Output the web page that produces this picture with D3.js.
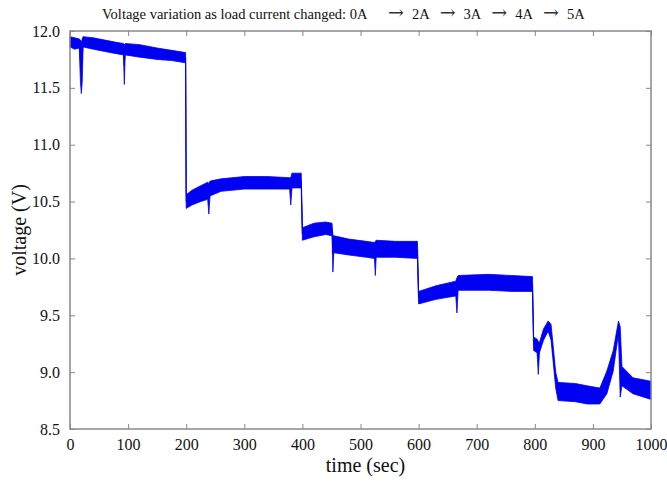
<!DOCTYPE html>
<html>
<head>
<meta charset="utf-8">
<script src="https://cdn.jsdelivr.net/npm/d3@7"></script>
<style>
  body { margin: 0; background: #fff; }
  svg text { font-family: "Liberation Serif", "Times New Roman", serif; fill: #111; }
  .axis .domain { display: none; }
  .axis line { stroke: #888; stroke-width: 1; }
</style>
</head>
<body>
<svg id="chart" width="667" height="484"></svg>
<script>
//

// time (sec) and the low / high edge of the noisy voltage band (V)
const time = [0, 8, 16, 18, 19.5, 21, 22.5, 40, 60, 80, 92, 93.5, 95, 120, 150, 175, 199,
  200, 210, 225, 237, 239, 241, 260, 300, 340, 378, 380, 382, 398,
  400, 420, 440, 451, 452.5, 454, 480, 510, 524, 525.5, 527, 560, 598,
  600, 630, 664, 666, 668, 720, 760, 796,
  798, 804, 806, 808, 815, 823, 828, 836, 840, 870, 890, 912, 924, 935, 944, 947, 950, 969, 1000]
const vLow = [11.86, 11.84, 11.85, 11.55, 11.45, 11.55, 11.86, 11.84, 11.82, 11.80, 11.79, 11.53, 11.79, 11.77, 11.75, 11.74, 11.72,
  10.44, 10.47, 10.50, 10.52, 10.39, 10.55, 10.59, 10.61, 10.61, 10.61, 10.47, 10.62, 10.62,
  10.16, 10.19, 10.21, 10.20, 9.88, 10.05, 10.03, 10.01, 10.00, 9.85, 10.01, 10.01, 10.00,
  9.60, 9.64, 9.67, 9.52, 9.72, 9.72, 9.71, 9.71,
  9.19, 9.17, 8.98, 9.17, 9.28, 9.36, 9.28, 8.86, 8.75, 8.74, 8.72, 8.72, 8.81, 9.01, 9.34, 8.78, 8.88, 8.81, 8.76]
const vHigh = [11.95, 11.94, 11.93, 11.92, 11.90, 11.93, 11.95, 11.94, 11.92, 11.90, 11.89, 11.88, 11.89, 11.88, 11.85, 11.83, 11.81,
  10.56, 10.60, 10.64, 10.67, 10.66, 10.68, 10.70, 10.72, 10.72, 10.71, 10.71, 10.75, 10.75,
  10.27, 10.31, 10.32, 10.31, 10.20, 10.20, 10.17, 10.15, 10.14, 10.15, 10.16, 10.15, 10.15,
  9.71, 9.76, 9.80, 9.83, 9.85, 9.86, 9.85, 9.84,
  9.31, 9.29, 9.27, 9.26, 9.38, 9.45, 9.42, 9.00, 8.91, 8.90, 8.88, 8.86, 9.01, 9.19, 9.45, 9.40, 9.05, 8.95, 8.92]

const xTicks = [0, 100, 200, 300, 400, 500, 600, 700, 800, 900, 1000]
const yTicks = [8.5, 9, 9.5, 10, 10.5, 11, 11.5, 12]
const steps = ['2A', '3A', '4A', '5A']

//

const svg = d3.select('#chart')
const plotLeft = 70
const plotRight = 651
const plotTop = 31
const plotBottom = 429

const x = d3.scaleLinear().domain([0, 1000]).range([plotLeft, plotRight])
const y = d3.scaleLinear().domain([8.5, 12]).range([plotBottom, plotTop])

const rows = time.map((t, i) => ({ t, lo: vLow[i], hi: vHigh[i] }))

// ticks, inward on all four sides
svg.append('g').attr('class', 'axis')
  .attr('transform', `translate(0,${plotBottom})`)
  .call(d3.axisBottom(x).tickValues(xTicks).tickSizeInner(-5).tickSizeOuter(0).tickPadding(10).tickFormat(d3.format('d')))
svg.append('g').attr('class', 'axis')
  .attr('transform', `translate(0,${plotTop})`)
  .call(d3.axisTop(x).tickValues(xTicks).tickSizeInner(-5).tickSizeOuter(0).tickFormat(''))
svg.append('g').attr('class', 'axis')
  .attr('transform', `translate(${plotLeft},0)`)
  .call(d3.axisLeft(y).tickValues(yTicks).tickSizeInner(-5).tickSizeOuter(0).tickPadding(10))
svg.append('g').attr('class', 'axis')
  .attr('transform', `translate(${plotRight},0)`)
  .call(d3.axisRight(y).tickValues(yTicks).tickSizeInner(-5).tickSizeOuter(0).tickFormat(''))

svg.selectAll('.axis text').style('font-size', '16px').style('font-family', '"Liberation Serif", serif')
// last x label sits at the window edge, pull it in a touch
svg.selectAll('.axis text').filter(d => d === 1000).attr('text-anchor', 'end').attr('x', 667 - plotRight)

// the trace
svg.append('path')
  .datum(rows)
  .attr('d', d3.area().x(d => x(d.t)).y0(d => y(d.lo)).y1(d => y(d.hi)))
  .attr('fill', '#0000f2')
  .attr('stroke', '#0000f2')
  .attr('stroke-width', 0.8)

svg.append('path')
  .datum(rows)
  .attr('d', d3.line().x(d => x(d.t)).y(d => y((d.lo + d.hi) / 2)))
  .attr('fill', 'none')
  .attr('stroke', '#0000f2')
  .attr('stroke-width', 1)

// frame
svg.append('rect')
  .attr('x', plotLeft).attr('y', plotTop)
  .attr('width', plotRight - plotLeft).attr('height', plotBottom - plotTop)
  .attr('fill', 'none').attr('stroke', '#888').attr('stroke-width', 1.5)

// labels
svg.append('text')
  .attr('x', (plotLeft + plotRight) / 2 + 5).attr('y', 472)
  .attr('text-anchor', 'middle').style('font-size', '20px')
  .text('time (sec)')

svg.append('text')
  .attr('transform', `translate(26,${(plotTop + plotBottom) / 2}) rotate(-90)`)
  .attr('text-anchor', 'middle').style('font-size', '20px')
  .text('voltage (V)')

svg.append('text')
  .attr('x', 102).attr('y', 19).style('font-size', '14.5px')
  .text('Voltage variation as load current changed: 0A')

const arrows = svg.append('text')
  .attr('x', 388).attr('y', 19).style('font-size', '14.5px')
steps.forEach((s, i) => {
  arrows.append('tspan')
    .style('font-family', '"DejaVu Serif", serif').style('font-size', '19px').style('fill', '#333')
    .attr('dx', i === 0 ? 0 : 10)
    .text('\u2192')
  arrows.append('tspan').attr('dx', 8).text(s)
})
</script>
</body>
</html>
